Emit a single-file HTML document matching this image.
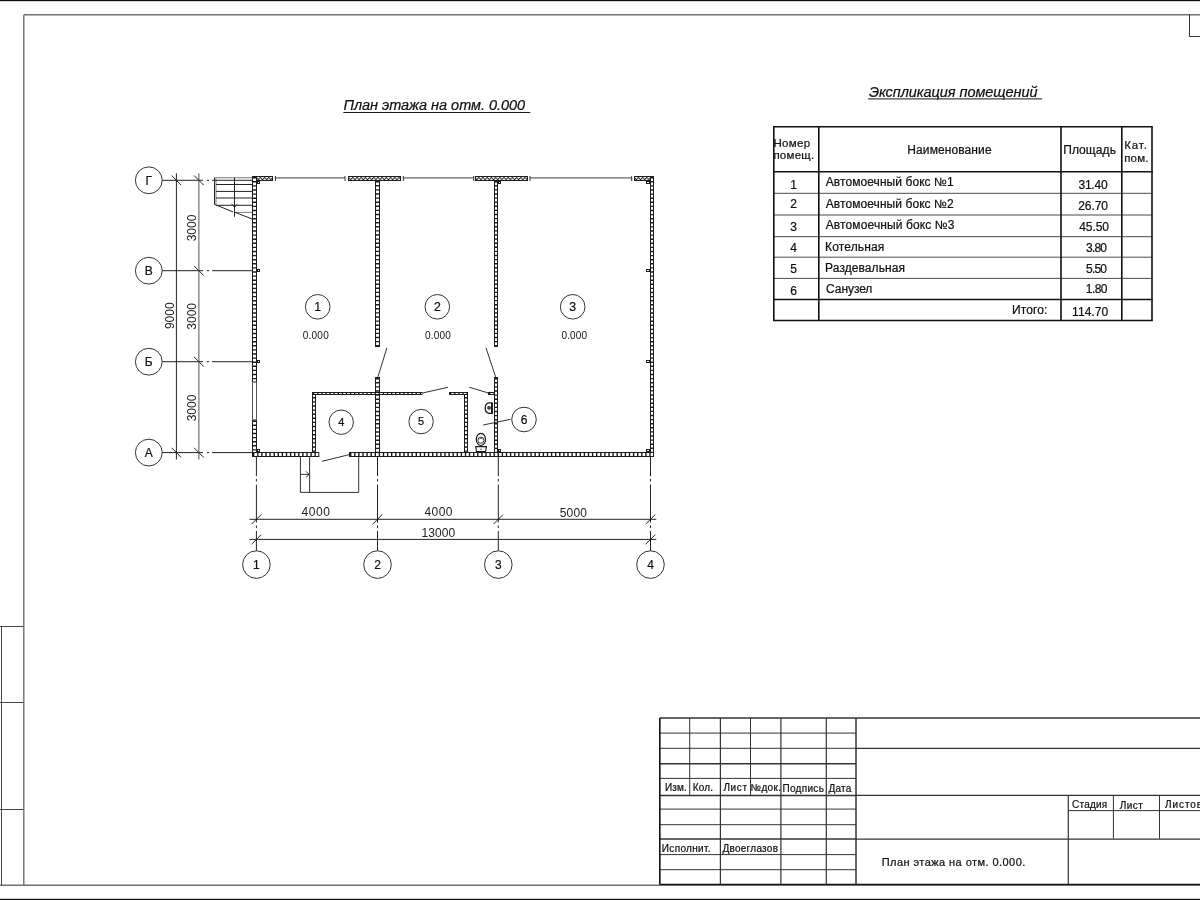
<!DOCTYPE html>
<html><head><meta charset="utf-8"><title>План этажа</title>
<style>
html,body{margin:0;padding:0;background:#fff;width:1200px;height:900px;overflow:hidden;}
svg{display:block;filter:grayscale(1);}
text{font-family:"Liberation Sans", sans-serif;stroke:#111;stroke-width:0.22px;}
</style></head>
<body>
<svg width="1200" height="900" viewBox="0 0 1200 900">
<defs><pattern id="hatch" x="0" y="176" width="4.2" height="5" patternUnits="userSpaceOnUse"><rect width="4.2" height="5" fill="#fff"/><path d="M0,1.2 L2.1,3.8 L4.2,1.2" fill="none" stroke="#161616" stroke-width="1"/></pattern></defs>
<rect width="1200" height="900" fill="#fff"/>
<rect x="0" y="0" width="1200" height="1.2" fill="#111"/>
<rect x="0" y="898.8" width="1200" height="1.2" fill="#111"/>
<line x1="23.80" y1="14.80" x2="1200.00" y2="14.80" stroke="#707070" stroke-width="1.4" />
<line x1="23.80" y1="14.80" x2="23.80" y2="885.20" stroke="#707070" stroke-width="1.4" />
<line x1="0.00" y1="885.20" x2="1200.00" y2="885.20" stroke="#707070" stroke-width="1.4" />
<line x1="1.50" y1="626.00" x2="1.50" y2="885.00" stroke="#444" stroke-width="1" />
<line x1="0.00" y1="626.50" x2="23.50" y2="626.50" stroke="#444" stroke-width="1" />
<line x1="0.00" y1="702.50" x2="23.50" y2="702.50" stroke="#444" stroke-width="1" />
<line x1="0.00" y1="809.50" x2="23.50" y2="809.50" stroke="#444" stroke-width="1" />
<line x1="1189.50" y1="14.50" x2="1189.50" y2="36.50" stroke="#333" stroke-width="1" />
<line x1="1189.50" y1="36.50" x2="1200.00" y2="36.50" stroke="#333" stroke-width="1" />
<text id="t1" x="343.40" y="109.75" font-size="14.5" fill="#111" font-style="italic" textLength="181.76" lengthAdjust="spacing">План этажа на отм. 0.000</text>
<line x1="343.30" y1="112.50" x2="530.30" y2="112.50" stroke="#1a1a1a" stroke-width="1" />
<text id="t2" x="869.00" y="96.5" font-size="14.5" fill="#111" font-style="italic" textLength="168.57" lengthAdjust="spacing">Экспликация помещений</text>
<line x1="868.00" y1="98.80" x2="1042.00" y2="98.80" stroke="#444" stroke-width="1.2" />
<line x1="773.80" y1="193.30" x2="1152.00" y2="193.30" stroke="#4a4a4a" stroke-width="1" />
<line x1="773.80" y1="215.00" x2="1152.00" y2="215.00" stroke="#4a4a4a" stroke-width="1" />
<line x1="773.80" y1="236.70" x2="1152.00" y2="236.70" stroke="#4a4a4a" stroke-width="1" />
<line x1="773.80" y1="257.20" x2="1152.00" y2="257.20" stroke="#4a4a4a" stroke-width="1" />
<line x1="773.80" y1="278.40" x2="1152.00" y2="278.40" stroke="#4a4a4a" stroke-width="1" />
<line x1="773.00" y1="126.80" x2="1152.80" y2="126.80" stroke="#111" stroke-width="1.6" />
<line x1="773.00" y1="171.80" x2="1152.80" y2="171.80" stroke="#111" stroke-width="1.6" />
<line x1="773.00" y1="299.50" x2="1152.80" y2="299.50" stroke="#111" stroke-width="1.6" />
<line x1="773.00" y1="320.50" x2="1152.80" y2="320.50" stroke="#111" stroke-width="1.6" />
<line x1="773.80" y1="126.80" x2="773.80" y2="320.50" stroke="#111" stroke-width="1.6" />
<line x1="818.80" y1="126.80" x2="818.80" y2="320.50" stroke="#111" stroke-width="1.6" />
<line x1="1061.00" y1="126.80" x2="1061.00" y2="320.50" stroke="#111" stroke-width="1.6" />
<line x1="1121.80" y1="126.80" x2="1121.80" y2="320.50" stroke="#111" stroke-width="1.6" />
<line x1="1152.00" y1="126.80" x2="1152.00" y2="320.50" stroke="#111" stroke-width="1.6" />
<text id="h1" x="773.40" y="146.8" font-size="11.5" fill="#111"  textLength="36.66" lengthAdjust="spacing">Номер</text>
<text id="h2" x="773.40" y="158.5" font-size="11.5" fill="#111"  textLength="40.79" lengthAdjust="spacing">помещ.</text>
<text id="h3" x="907.30" y="153.8" font-size="12" fill="#111"  textLength="84.27" lengthAdjust="spacing">Наименование</text>
<text id="h4" x="1063.20" y="153.8" font-size="12" fill="#111"  textLength="52.72" lengthAdjust="spacing">Площадь</text>
<text id="h5" x="1124.20" y="149.3" font-size="11.5" fill="#111"  textLength="22.70" lengthAdjust="spacing">Кат.</text>
<text id="h6" x="1124.20" y="161.5" font-size="11.5" fill="#111"  textLength="24.26" lengthAdjust="spacing">пом.</text>
<text id="r1" x="825.70" y="186.4" font-size="12" fill="#111"  textLength="127.97" lengthAdjust="spacing">Автомоечный бокс №1</text>
<text id="r2" x="825.70" y="208" font-size="12" fill="#111"  textLength="127.97" lengthAdjust="spacing">Автомоечный бокс №2</text>
<text id="r3" x="825.70" y="229.1" font-size="12" fill="#111"  textLength="128.81" lengthAdjust="spacing">Автомоечный бокс №3</text>
<text id="r4" x="825.10" y="250.7" font-size="12" fill="#111"  textLength="59.22" lengthAdjust="spacing">Котельная</text>
<text id="r5" x="825.10" y="272" font-size="12" fill="#111"  textLength="79.90" lengthAdjust="spacing">Раздевальная</text>
<text id="r6" x="826.10" y="293.1" font-size="12" fill="#111"  textLength="46.28" lengthAdjust="spacing">Санузел</text>
<text id="tot" x="1012.10" y="313.7" font-size="12" fill="#111"  textLength="35.26" lengthAdjust="spacing">Итого:</text>
<text id="a1" x="1078.40" y="188.5" font-size="12" fill="#111"  textLength="29.28" lengthAdjust="spacing">31.40</text>
<text id="a2" x="1078.15" y="210.4" font-size="12" fill="#111"  textLength="29.90" lengthAdjust="spacing">26.70</text>
<text id="a3" x="1079.15" y="231.25" font-size="12" fill="#111"  textLength="29.90" lengthAdjust="spacing">45.50</text>
<text id="a4" x="1086.10" y="251.7" font-size="12" fill="#111"  textLength="20.96" lengthAdjust="spacing">3.80</text>
<text id="a5" x="1086.10" y="272.7" font-size="12" fill="#111"  textLength="20.96" lengthAdjust="spacing">5.50</text>
<text id="a6" x="1085.80" y="293.3" font-size="12" fill="#111"  textLength="21.76" lengthAdjust="spacing">1.80</text>
<text id="a7" x="1072.10" y="316" font-size="12" fill="#111"  textLength="36.05" lengthAdjust="spacing">114.70</text>
<text x="793.6" y="188.6" font-size="12" text-anchor="middle" fill="#111" >1</text>
<text x="793.6" y="208" font-size="12" text-anchor="middle" fill="#111" >2</text>
<text x="793.6" y="231.1" font-size="12" text-anchor="middle" fill="#111" >3</text>
<text x="793.6" y="252.3" font-size="12" text-anchor="middle" fill="#111" >4</text>
<text x="793.6" y="273" font-size="12" text-anchor="middle" fill="#111" >5</text>
<text x="793.6" y="295" font-size="12" text-anchor="middle" fill="#111" >6</text>
<line x1="659.80" y1="733.10" x2="856.00" y2="733.10" stroke="#333" stroke-width="1" />
<line x1="659.80" y1="748.30" x2="856.00" y2="748.30" stroke="#333" stroke-width="1" />
<line x1="659.80" y1="763.70" x2="856.00" y2="763.70" stroke="#333" stroke-width="1.5" />
<line x1="659.80" y1="778.40" x2="856.00" y2="778.40" stroke="#333" stroke-width="1" />
<line x1="659.80" y1="795.40" x2="856.00" y2="795.40" stroke="#333" stroke-width="1.5" />
<line x1="659.80" y1="809.10" x2="856.00" y2="809.10" stroke="#333" stroke-width="1" />
<line x1="659.80" y1="824.70" x2="856.00" y2="824.70" stroke="#333" stroke-width="1" />
<line x1="659.80" y1="839.10" x2="856.00" y2="839.10" stroke="#333" stroke-width="1.5" />
<line x1="659.80" y1="854.60" x2="856.00" y2="854.60" stroke="#333" stroke-width="1" />
<line x1="659.80" y1="869.70" x2="856.00" y2="869.70" stroke="#333" stroke-width="1" />
<line x1="659.80" y1="718.10" x2="1200.00" y2="718.10" stroke="#333" stroke-width="1.5" />
<line x1="856.00" y1="748.30" x2="1200.00" y2="748.30" stroke="#333" stroke-width="1.3" />
<line x1="856.00" y1="795.40" x2="1200.00" y2="795.40" stroke="#333" stroke-width="1.3" />
<line x1="856.00" y1="839.10" x2="1200.00" y2="839.10" stroke="#333" stroke-width="1.3" />
<line x1="659.80" y1="718.10" x2="659.80" y2="884.50" stroke="#111" stroke-width="1.6" />
<line x1="659.80" y1="884.40" x2="1200.00" y2="884.40" stroke="#111" stroke-width="1.3" />
<line x1="689.70" y1="718.10" x2="689.70" y2="795.40" stroke="#333" stroke-width="1" />
<line x1="750.50" y1="718.10" x2="750.50" y2="795.40" stroke="#333" stroke-width="1" />
<line x1="720.40" y1="718.10" x2="720.40" y2="884.50" stroke="#333" stroke-width="1.2" />
<line x1="780.90" y1="718.10" x2="780.90" y2="884.50" stroke="#333" stroke-width="1.2" />
<line x1="826.30" y1="718.10" x2="826.30" y2="884.50" stroke="#333" stroke-width="1.2" />
<line x1="856.00" y1="718.10" x2="856.00" y2="884.50" stroke="#333" stroke-width="1.5" />
<line x1="1068.30" y1="795.40" x2="1068.30" y2="884.50" stroke="#333" stroke-width="1.2" />
<line x1="1068.30" y1="810.60" x2="1200.00" y2="810.60" stroke="#333" stroke-width="1" />
<line x1="1113.40" y1="795.40" x2="1113.40" y2="838.60" stroke="#333" stroke-width="1" />
<line x1="1159.50" y1="795.40" x2="1159.50" y2="838.60" stroke="#333" stroke-width="1" />
<text id="b1" x="664.90" y="791.2" font-size="10" fill="#111"  textLength="21.97" lengthAdjust="spacing">Изм.</text>
<text id="b2" x="692.70" y="791.2" font-size="10" fill="#111"  textLength="20.31" lengthAdjust="spacing">Кол.</text>
<text id="b3" x="723.40" y="791.2" font-size="10" fill="#111"  textLength="23.60" lengthAdjust="spacing">Лист</text>
<text id="b4" x="750.40" y="791.2" font-size="10" fill="#111"  textLength="30.54" lengthAdjust="spacing">№док.</text>
<text id="b5" x="782.40" y="791.5" font-size="10" fill="#111"  textLength="41.45" lengthAdjust="spacing">Подпись</text>
<text id="b6" x="828.40" y="791.5" font-size="10" fill="#111"  textLength="22.96" lengthAdjust="spacing">Дата</text>
<text id="b7" x="661.80" y="852.3" font-size="10" fill="#111"  textLength="48.84" lengthAdjust="spacing">Исполнит.</text>
<text id="b8" x="722.40" y="852.3" font-size="10" fill="#111"  textLength="55.61" lengthAdjust="spacing">Двоеглазов</text>
<text id="b9" x="1072.10" y="807.7" font-size="10" fill="#111"  textLength="35.05" lengthAdjust="spacing">Стадия</text>
<text id="b10" x="1119.80" y="808.5" font-size="10" fill="#111"  textLength="23.07" lengthAdjust="spacing">Лист</text>
<text x="1165" y="807.7" font-size="10" fill="#111" textLength="37.05" lengthAdjust="spacing">Листов</text>
<text id="b11" x="881.70" y="866" font-size="11" fill="#111"  textLength="143.56" lengthAdjust="spacing">План этажа на отм. 0.000.</text>
<rect x="252.50" y="176.50" width="20.00" height="4.00" fill="url(#hatch)" stroke="#1c1c1c" stroke-width="1"/>
<rect x="348.50" y="176.50" width="52.00" height="4.00" fill="url(#hatch)" stroke="#1c1c1c" stroke-width="1"/>
<rect x="475.50" y="176.50" width="52.00" height="4.00" fill="url(#hatch)" stroke="#1c1c1c" stroke-width="1"/>
<rect x="634.50" y="176.50" width="19.00" height="4.00" fill="url(#hatch)" stroke="#1c1c1c" stroke-width="1"/>
<line x1="275.40" y1="177.80" x2="345.00" y2="177.80" stroke="#666" stroke-width="1.2" />
<line x1="275.40" y1="176.00" x2="275.40" y2="181.00" stroke="#333" stroke-width="1" />
<line x1="345.00" y1="176.00" x2="345.00" y2="181.00" stroke="#333" stroke-width="1" />
<line x1="403.30" y1="177.80" x2="473.70" y2="177.80" stroke="#666" stroke-width="1.2" />
<line x1="403.30" y1="176.00" x2="403.30" y2="181.00" stroke="#333" stroke-width="1" />
<line x1="473.70" y1="176.00" x2="473.70" y2="181.00" stroke="#333" stroke-width="1" />
<line x1="530.00" y1="177.80" x2="631.70" y2="177.80" stroke="#666" stroke-width="1.2" />
<line x1="530.00" y1="176.00" x2="530.00" y2="181.00" stroke="#333" stroke-width="1" />
<line x1="631.70" y1="176.00" x2="631.70" y2="181.00" stroke="#333" stroke-width="1" />
<rect x="252.50" y="176.50" width="4.00" height="205.50" fill="#fff" stroke="#1c1c1c" stroke-width="1"/>
<line x1="254.50" y1="177.00" x2="254.50" y2="381.50" stroke="#1c1c1c" stroke-width="3.00" stroke-dasharray="1.4 2.7"/>
<rect x="252.50" y="420.00" width="4.00" height="36.50" fill="#fff" stroke="#1c1c1c" stroke-width="1"/>
<line x1="254.50" y1="420.50" x2="254.50" y2="456.00" stroke="#1c1c1c" stroke-width="3.00" stroke-dasharray="1.4 2.7"/>
<line x1="252.50" y1="382.50" x2="252.50" y2="419.50" stroke="#555" stroke-width="1" />
<line x1="256.50" y1="382.50" x2="256.50" y2="419.50" stroke="#555" stroke-width="1" />
<rect x="650.50" y="176.50" width="3.00" height="280.00" fill="#fff" stroke="#1c1c1c" stroke-width="1"/>
<line x1="652.00" y1="177.00" x2="652.00" y2="456.00" stroke="#1c1c1c" stroke-width="2.00" stroke-dasharray="1.4 2.7"/>
<rect x="252.50" y="452.50" width="66.30" height="4.00" fill="#fff" stroke="#1c1c1c" stroke-width="1"/>
<line x1="253.00" y1="454.50" x2="318.30" y2="454.50" stroke="#1c1c1c" stroke-width="3.00" stroke-dasharray="1.4 2.7"/>
<rect x="349.50" y="452.50" width="304.00" height="4.00" fill="#fff" stroke="#1c1c1c" stroke-width="1"/>
<line x1="350.00" y1="454.50" x2="653.00" y2="454.50" stroke="#1c1c1c" stroke-width="3.00" stroke-dasharray="1.4 2.7"/>
<rect x="375.50" y="180.50" width="4.00" height="166.00" fill="#fff" stroke="#1c1c1c" stroke-width="1"/>
<line x1="377.50" y1="181.00" x2="377.50" y2="346.00" stroke="#1c1c1c" stroke-width="3.00" stroke-dasharray="1.4 2.7"/>
<rect x="375.50" y="377.50" width="4.00" height="75.00" fill="#fff" stroke="#1c1c1c" stroke-width="1"/>
<line x1="377.50" y1="378.00" x2="377.50" y2="452.00" stroke="#1c1c1c" stroke-width="3.00" stroke-dasharray="1.4 2.7"/>
<rect x="494.50" y="180.50" width="3.00" height="166.00" fill="#fff" stroke="#1c1c1c" stroke-width="1"/>
<line x1="496.00" y1="181.00" x2="496.00" y2="346.00" stroke="#1c1c1c" stroke-width="2.00" stroke-dasharray="1.4 2.7"/>
<rect x="494.50" y="377.50" width="3.00" height="75.00" fill="#fff" stroke="#1c1c1c" stroke-width="1"/>
<line x1="496.00" y1="378.00" x2="496.00" y2="452.00" stroke="#1c1c1c" stroke-width="2.00" stroke-dasharray="1.4 2.7"/>
<rect x="312.50" y="392.50" width="3.00" height="60.00" fill="#fff" stroke="#1c1c1c" stroke-width="1"/>
<line x1="314.00" y1="393.00" x2="314.00" y2="452.00" stroke="#1c1c1c" stroke-width="2.00" stroke-dasharray="1.4 2.7"/>
<rect x="464.50" y="392.50" width="3.00" height="60.00" fill="#fff" stroke="#1c1c1c" stroke-width="1"/>
<line x1="466.00" y1="393.00" x2="466.00" y2="452.00" stroke="#1c1c1c" stroke-width="2.00" stroke-dasharray="1.4 2.7"/>
<rect x="312.50" y="392.50" width="109.50" height="2.00" fill="#fff" stroke="#1c1c1c" stroke-width="1"/>
<line x1="313.00" y1="393.50" x2="421.50" y2="393.50" stroke="#1c1c1c" stroke-width="1.00" stroke-dasharray="1.4 2.7"/>
<rect x="449.50" y="392.50" width="18.00" height="2.00" fill="#fff" stroke="#1c1c1c" stroke-width="1"/>
<line x1="450.00" y1="393.50" x2="467.00" y2="393.50" stroke="#1c1c1c" stroke-width="1.00" stroke-dasharray="1.4 2.7"/>
<rect x="488.50" y="392.50" width="5.50" height="2.00" fill="#fff" stroke="#1c1c1c" stroke-width="1"/>
<line x1="489.00" y1="393.50" x2="493.50" y2="393.50" stroke="#1c1c1c" stroke-width="1.00" stroke-dasharray="1.4 2.7"/>
<rect x="257.50" y="181.50" width="2.00" height="2.00" fill="#fff" stroke="#1a1a1a" stroke-width="1" />
<rect x="257.50" y="269.50" width="2.00" height="2.00" fill="#fff" stroke="#1a1a1a" stroke-width="1" />
<rect x="257.50" y="360.50" width="2.00" height="2.00" fill="#fff" stroke="#1a1a1a" stroke-width="1" />
<rect x="257.50" y="449.50" width="2.00" height="2.00" fill="#fff" stroke="#1a1a1a" stroke-width="1" />
<rect x="498.50" y="181.50" width="2.00" height="2.00" fill="#fff" stroke="#1a1a1a" stroke-width="1" />
<rect x="498.50" y="449.50" width="2.00" height="2.00" fill="#fff" stroke="#1a1a1a" stroke-width="1" />
<rect x="646.50" y="181.50" width="3.00" height="2.00" fill="#fff" stroke="#1a1a1a" stroke-width="1" />
<rect x="646.50" y="269.50" width="3.00" height="2.00" fill="#fff" stroke="#1a1a1a" stroke-width="1" />
<rect x="646.50" y="360.50" width="3.00" height="2.00" fill="#fff" stroke="#1a1a1a" stroke-width="1" />
<rect x="646.50" y="449.50" width="3.00" height="2.00" fill="#fff" stroke="#1a1a1a" stroke-width="1" />
<line x1="386.90" y1="347.90" x2="377.90" y2="376.90" stroke="#333" stroke-width="1" />
<line x1="486.00" y1="347.90" x2="495.60" y2="376.90" stroke="#333" stroke-width="1" />
<line x1="422.50" y1="393.00" x2="448.10" y2="387.25" stroke="#333" stroke-width="1" />
<line x1="469.40" y1="387.25" x2="488.75" y2="393.10" stroke="#333" stroke-width="1" />
<line x1="322.00" y1="461.30" x2="349.00" y2="454.70" stroke="#333" stroke-width="1" />
<polyline points="300.4,456.8 300.4,492.4 358.7,492.4 358.7,456.8" fill="none" stroke="#333" stroke-width="1"/>
<line x1="309.60" y1="456.80" x2="309.60" y2="492.40" stroke="#333" stroke-width="1" />
<line x1="300.40" y1="474.40" x2="309.60" y2="474.40" stroke="#333" stroke-width="1" />
<polyline points="305.8,471.4 309.4,474.4 305.8,477.4" fill="none" stroke="#333" stroke-width="0.9"/>
<line x1="214.60" y1="177.80" x2="252.30" y2="177.80" stroke="#777" stroke-width="1.1" />
<line x1="214.60" y1="177.80" x2="214.60" y2="204.40" stroke="#222" stroke-width="1.2" />
<line x1="216.20" y1="178.50" x2="216.20" y2="204.40" stroke="#888" stroke-width="0.8" />
<line x1="216.00" y1="184.50" x2="252.30" y2="184.50" stroke="#222" stroke-width="1" />
<line x1="216.00" y1="191.40" x2="252.30" y2="191.40" stroke="#222" stroke-width="1" />
<line x1="216.00" y1="198.00" x2="252.30" y2="198.00" stroke="#222" stroke-width="1" />
<line x1="216.00" y1="205.30" x2="252.30" y2="205.30" stroke="#222" stroke-width="1" />
<line x1="234.50" y1="212.40" x2="252.30" y2="212.40" stroke="#555" stroke-width="0.8" />
<line x1="234.50" y1="177.80" x2="234.50" y2="216.80" stroke="#222" stroke-width="1" />
<line x1="214.60" y1="204.40" x2="233.00" y2="211.90" stroke="#222" stroke-width="1" />
<line x1="234.50" y1="212.20" x2="252.30" y2="219.00" stroke="#222" stroke-width="1" />
<polyline points="231.5,203.8 234.5,207.5 237.5,203.8" fill="none" stroke="#222" stroke-width="0.9"/>
<circle cx="148.8" cy="180.3" r="13.4" fill="#fff" stroke="#333" stroke-width="1"/>
<text x="148.8" y="184.70000000000002" font-size="12" text-anchor="middle" fill="#111" stroke="#111" stroke-width="0.3">Г</text>
<line x1="162.20" y1="180.30" x2="203.00" y2="180.30" stroke="#222" stroke-width="1" />
<line x1="206.80" y1="180.30" x2="209.20" y2="180.30" stroke="#222" stroke-width="1" />
<line x1="212.00" y1="180.30" x2="252.30" y2="180.30" stroke="#222" stroke-width="1" />
<circle cx="148.8" cy="270.7" r="13.4" fill="#fff" stroke="#333" stroke-width="1"/>
<text x="148.8" y="275.09999999999997" font-size="12" text-anchor="middle" fill="#111" stroke="#111" stroke-width="0.3">В</text>
<line x1="162.20" y1="270.70" x2="203.00" y2="270.70" stroke="#222" stroke-width="1" />
<line x1="206.80" y1="270.70" x2="209.20" y2="270.70" stroke="#222" stroke-width="1" />
<line x1="212.00" y1="270.70" x2="252.30" y2="270.70" stroke="#222" stroke-width="1" />
<circle cx="148.8" cy="361.7" r="13.4" fill="#fff" stroke="#333" stroke-width="1"/>
<text x="148.8" y="366.09999999999997" font-size="12" text-anchor="middle" fill="#111" stroke="#111" stroke-width="0.3">Б</text>
<line x1="162.20" y1="361.70" x2="203.00" y2="361.70" stroke="#222" stroke-width="1" />
<line x1="206.80" y1="361.70" x2="209.20" y2="361.70" stroke="#222" stroke-width="1" />
<line x1="212.00" y1="361.70" x2="252.30" y2="361.70" stroke="#222" stroke-width="1" />
<circle cx="148.8" cy="452.6" r="13.4" fill="#fff" stroke="#333" stroke-width="1"/>
<text x="148.8" y="457.0" font-size="12" text-anchor="middle" fill="#111" stroke="#111" stroke-width="0.3">А</text>
<line x1="162.20" y1="452.60" x2="203.00" y2="452.60" stroke="#222" stroke-width="1" />
<line x1="206.80" y1="452.60" x2="209.20" y2="452.60" stroke="#222" stroke-width="1" />
<line x1="212.00" y1="452.60" x2="252.30" y2="452.60" stroke="#222" stroke-width="1" />
<line x1="176.40" y1="173.30" x2="176.40" y2="459.50" stroke="#222" stroke-width="1" />
<line x1="198.90" y1="173.30" x2="198.90" y2="459.50" stroke="#555" stroke-width="1" />
<line x1="171.60" y1="175.50" x2="181.20" y2="185.10" stroke="#222" stroke-width="1" />
<line x1="194.10" y1="175.50" x2="203.70" y2="185.10" stroke="#222" stroke-width="1" />
<line x1="194.10" y1="265.90" x2="203.70" y2="275.50" stroke="#222" stroke-width="1" />
<line x1="194.10" y1="356.90" x2="203.70" y2="366.50" stroke="#222" stroke-width="1" />
<line x1="171.60" y1="447.80" x2="181.20" y2="457.40" stroke="#222" stroke-width="1" />
<line x1="194.10" y1="447.80" x2="203.70" y2="457.40" stroke="#222" stroke-width="1" />
<text x="196.4" y="228" font-size="12" text-anchor="middle" fill="#222" style="stroke:none" transform="rotate(-90 196.4 228)">3000</text>
<text x="196.4" y="316.3" font-size="12" text-anchor="middle" fill="#222" style="stroke:none" transform="rotate(-90 196.4 316.3)">3000</text>
<text x="196.4" y="408" font-size="12" text-anchor="middle" fill="#222" style="stroke:none" transform="rotate(-90 196.4 408)">3000</text>
<text x="174.4" y="315.7" font-size="12" text-anchor="middle" fill="#222" style="stroke:none" transform="rotate(-90 174.4 315.7)">9000</text>
<line x1="256.40" y1="456.80" x2="256.40" y2="476.00" stroke="#222" stroke-width="1" />
<line x1="256.40" y1="479.00" x2="256.40" y2="481.50" stroke="#222" stroke-width="1" />
<line x1="256.40" y1="484.50" x2="256.40" y2="522.50" stroke="#222" stroke-width="1" />
<line x1="256.40" y1="525.50" x2="256.40" y2="528.00" stroke="#222" stroke-width="1" />
<line x1="256.40" y1="531.00" x2="256.40" y2="551.00" stroke="#222" stroke-width="1" />
<circle cx="256.4" cy="564.6" r="13.8" fill="#fff" stroke="#333" stroke-width="1"/>
<text x="256.4" y="568.9" font-size="12" text-anchor="middle" fill="#111" stroke="#111" stroke-width="0.3">1</text>
<line x1="377.50" y1="456.80" x2="377.50" y2="476.00" stroke="#222" stroke-width="1" />
<line x1="377.50" y1="479.00" x2="377.50" y2="481.50" stroke="#222" stroke-width="1" />
<line x1="377.50" y1="484.50" x2="377.50" y2="522.50" stroke="#222" stroke-width="1" />
<line x1="377.50" y1="525.50" x2="377.50" y2="528.00" stroke="#222" stroke-width="1" />
<line x1="377.50" y1="531.00" x2="377.50" y2="551.00" stroke="#222" stroke-width="1" />
<circle cx="377.5" cy="564.6" r="13.8" fill="#fff" stroke="#333" stroke-width="1"/>
<text x="377.5" y="568.9" font-size="12" text-anchor="middle" fill="#111" stroke="#111" stroke-width="0.3">2</text>
<line x1="498.30" y1="456.80" x2="498.30" y2="476.00" stroke="#222" stroke-width="1" />
<line x1="498.30" y1="479.00" x2="498.30" y2="481.50" stroke="#222" stroke-width="1" />
<line x1="498.30" y1="484.50" x2="498.30" y2="522.50" stroke="#222" stroke-width="1" />
<line x1="498.30" y1="525.50" x2="498.30" y2="528.00" stroke="#222" stroke-width="1" />
<line x1="498.30" y1="531.00" x2="498.30" y2="551.00" stroke="#222" stroke-width="1" />
<circle cx="498.3" cy="564.6" r="13.8" fill="#fff" stroke="#333" stroke-width="1"/>
<text x="498.3" y="568.9" font-size="12" text-anchor="middle" fill="#111" stroke="#111" stroke-width="0.3">3</text>
<line x1="650.50" y1="456.80" x2="650.50" y2="476.00" stroke="#222" stroke-width="1" />
<line x1="650.50" y1="479.00" x2="650.50" y2="481.50" stroke="#222" stroke-width="1" />
<line x1="650.50" y1="484.50" x2="650.50" y2="522.50" stroke="#222" stroke-width="1" />
<line x1="650.50" y1="525.50" x2="650.50" y2="528.00" stroke="#222" stroke-width="1" />
<line x1="650.50" y1="531.00" x2="650.50" y2="551.00" stroke="#222" stroke-width="1" />
<circle cx="650.5" cy="564.6" r="13.8" fill="#fff" stroke="#333" stroke-width="1"/>
<text x="650.5" y="568.9" font-size="12" text-anchor="middle" fill="#111" stroke="#111" stroke-width="0.3">4</text>
<line x1="249.50" y1="519.30" x2="656.30" y2="519.30" stroke="#222" stroke-width="1" />
<line x1="249.50" y1="539.40" x2="656.30" y2="539.40" stroke="#222" stroke-width="1" />
<line x1="251.60" y1="524.10" x2="261.20" y2="514.50" stroke="#222" stroke-width="1" />
<line x1="372.70" y1="524.10" x2="382.30" y2="514.50" stroke="#222" stroke-width="1" />
<line x1="493.50" y1="524.10" x2="503.10" y2="514.50" stroke="#222" stroke-width="1" />
<line x1="645.70" y1="524.10" x2="655.30" y2="514.50" stroke="#222" stroke-width="1" />
<line x1="251.60" y1="544.20" x2="261.20" y2="534.60" stroke="#222" stroke-width="1" />
<line x1="645.70" y1="544.20" x2="655.30" y2="534.60" stroke="#222" stroke-width="1" />
<text id="d1" x="301.40" y="516.2" font-size="12" fill="#222" style="stroke:none" textLength="28.57" lengthAdjust="spacing">4000</text>
<text id="d2" x="424.40" y="516.2" font-size="12" fill="#222" style="stroke:none" textLength="28.04" lengthAdjust="spacing">4000</text>
<text id="d3" x="559.70" y="516.7" font-size="12" fill="#222" style="stroke:none" textLength="27.24" lengthAdjust="spacing">5000</text>
<text id="d4" x="421.40" y="536.7" font-size="12" fill="#222" style="stroke:none" textLength="33.87" lengthAdjust="spacing">13000</text>
<text id="e1" x="302.70" y="338.7" font-size="10" fill="#111" style="stroke:none" textLength="26.03" lengthAdjust="spacing">0.000</text>
<text id="e2" x="425.00" y="338.9" font-size="10" fill="#111" style="stroke:none" textLength="25.78" lengthAdjust="spacing">0.000</text>
<text id="e3" x="561.40" y="338.9" font-size="10" fill="#111" style="stroke:none" textLength="25.78" lengthAdjust="spacing">0.000</text>
<circle cx="317.7" cy="306.8" r="12.3" fill="#fff" stroke="#333" stroke-width="1"/>
<text x="317.7" y="311.0" font-size="12.3" text-anchor="middle" fill="#111" >1</text>
<circle cx="437.3" cy="306.8" r="12.3" fill="#fff" stroke="#333" stroke-width="1"/>
<text x="437.3" y="311.0" font-size="12.3" text-anchor="middle" fill="#111" >2</text>
<circle cx="572.7" cy="306.8" r="12.3" fill="#fff" stroke="#333" stroke-width="1"/>
<text x="572.7" y="311.0" font-size="12.3" text-anchor="middle" fill="#111" >3</text>
<circle cx="341.2" cy="422.2" r="12.2" fill="#fff" stroke="#333" stroke-width="1"/>
<text x="341.2" y="426.0" font-size="11" text-anchor="middle" fill="#111" >4</text>
<circle cx="421.1" cy="421.6" r="12.2" fill="#fff" stroke="#333" stroke-width="1"/>
<text x="421.1" y="425.40000000000003" font-size="11" text-anchor="middle" fill="#111" >5</text>
<line x1="510.50" y1="419.30" x2="483.20" y2="425.00" stroke="#333" stroke-width="1" />
<circle cx="524" cy="419.5" r="12.3" fill="#fff" stroke="#333" stroke-width="1"/>
<text x="524" y="423.8" font-size="12" text-anchor="middle" fill="#111" >6</text>
<path d="M492.3,402.9 L488.6,402.9 A4.2 5.3 0 0 0 488.6,413.3 L492.3,413.3 Z" fill="#fff" stroke="#1a1a1a" stroke-width="1.3"/>
<line x1="491.60" y1="403.00" x2="491.60" y2="413.20" stroke="#1a1a1a" stroke-width="1.2" />
<circle cx="489" cy="407.8" r="1.5" fill="#555" stroke="#222" stroke-width="0.8"/>
<ellipse cx="480.9" cy="439.4" rx="4.6" ry="6.1" fill="#fff" stroke="#1a1a1a" stroke-width="1.2"/>
<ellipse cx="480.9" cy="440.2" rx="3" ry="3.1" fill="none" stroke="#222" stroke-width="0.9"/>
<path d="M479.4,439.3 L480.9,437.8 L482.4,439.3" fill="none" stroke="#222" stroke-width="0.8"/>
<path d="M475.7,446.6 L486.4,446.6 L485.6,451.6 L476.5,451.6 Z" fill="#fff" stroke="#1a1a1a" stroke-width="1.1"/>
<circle cx="481" cy="449.2" r="0.7" fill="#333"/>
</svg>
</body></html>
